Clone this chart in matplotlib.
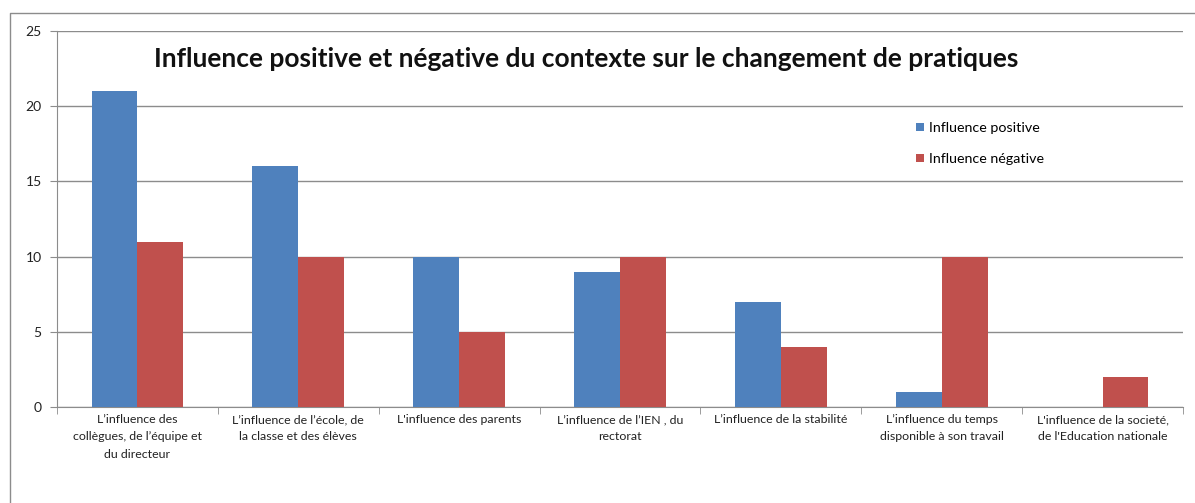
import matplotlib
matplotlib.use("Agg")
import matplotlib.pyplot as plt
from matplotlib.lines import Line2D
import numpy as np

categories = [
    "L\u2019influence des\ncollègues, de l\u2019équipe et\ndu directeur",
    "L\u2019influence de l\u2019école, de\nla classe et des élèves",
    "L'influence des parents",
    "L\u2019influence de l\u2019IEN , du\nrectorat",
    "L\u2019influence de la stabilité",
    "L\u2019influence du temps\ndisponible à son travail",
    "L'influence de la societé,\nde l'Education nationale",
]
positive = [21, 16, 10, 9, 7, 1, 0]
negative = [11, 10, 5, 10, 4, 10, 2]
series_names = ["Influence positive", "Influence négative"]
title = "Influence positive et négative du contexte sur le changement de pratiques"

plt.rcParams['font.family'] = ['Lato', 'DejaVu Sans']

W, H = 1195, 503
fig = plt.figure(figsize=(W / 100, H / 100), dpi=100)
ax = fig.add_axes([57 / W, 1 - 407 / H, (1183 - 57) / W, (407 - 31) / H])

x = np.arange(len(categories))
bw = 0.285
ax.bar(x - bw / 2, positive, bw, color="#4F81BD", label=series_names[0], zorder=3)
ax.bar(x + bw / 2, negative, bw, color="#C0504D", label=series_names[1], zorder=3)

ax.set_xlim(-0.5, len(categories) - 0.5)
ax.set_ylim(0, 25)
ax.set_yticks([0, 5, 10, 15, 20, 25])
ax.yaxis.grid(True, color="#8c8c8c", linewidth=1, zorder=0)
ax.set_axisbelow(True)

ax.set_xticks(x)
ax.set_xticklabels(categories, fontsize=8.9, color="#222222", linespacing=1.7)
ax.tick_params(axis='x', length=0, pad=5)
ax.set_xticks(np.arange(-0.5, len(categories) + 0.5, 1), minor=True)
ax.tick_params(axis='x', which='minor', length=5, color="#8c8c8c", direction='out')
ax.tick_params(axis='y', labelsize=10, labelcolor="#222222", length=5, color="#8c8c8c", pad=6)

for s in ["top", "right"]:
    ax.spines[s].set_visible(False)
ax.spines["left"].set_color("#8c8c8c")
ax.spines["bottom"].set_color("#8c8c8c")

fig.text(586 / W, 1 - 59 / H, title, fontsize=19, fontweight='bold',
         ha='center', va='center', color="#111111")

leg = ax.legend(loc='upper left', bbox_to_anchor=((903 - 57) / (1183 - 57), (407 - 109) / (407 - 31)),
                frameon=False, fontsize=10.3, handlelength=0.55, handleheight=0.55,
                handletextpad=0.4, labelspacing=1.35)

# outer chart border
fig.add_artist(Line2D([10 / W, 10 / W, 1.0], [0.0, 1 - 13 / H, 1 - 13 / H],
                      color="#8c8c8c", linewidth=1, transform=fig.transFigure))

fig.savefig("out.png", dpi=100, facecolor="white")
